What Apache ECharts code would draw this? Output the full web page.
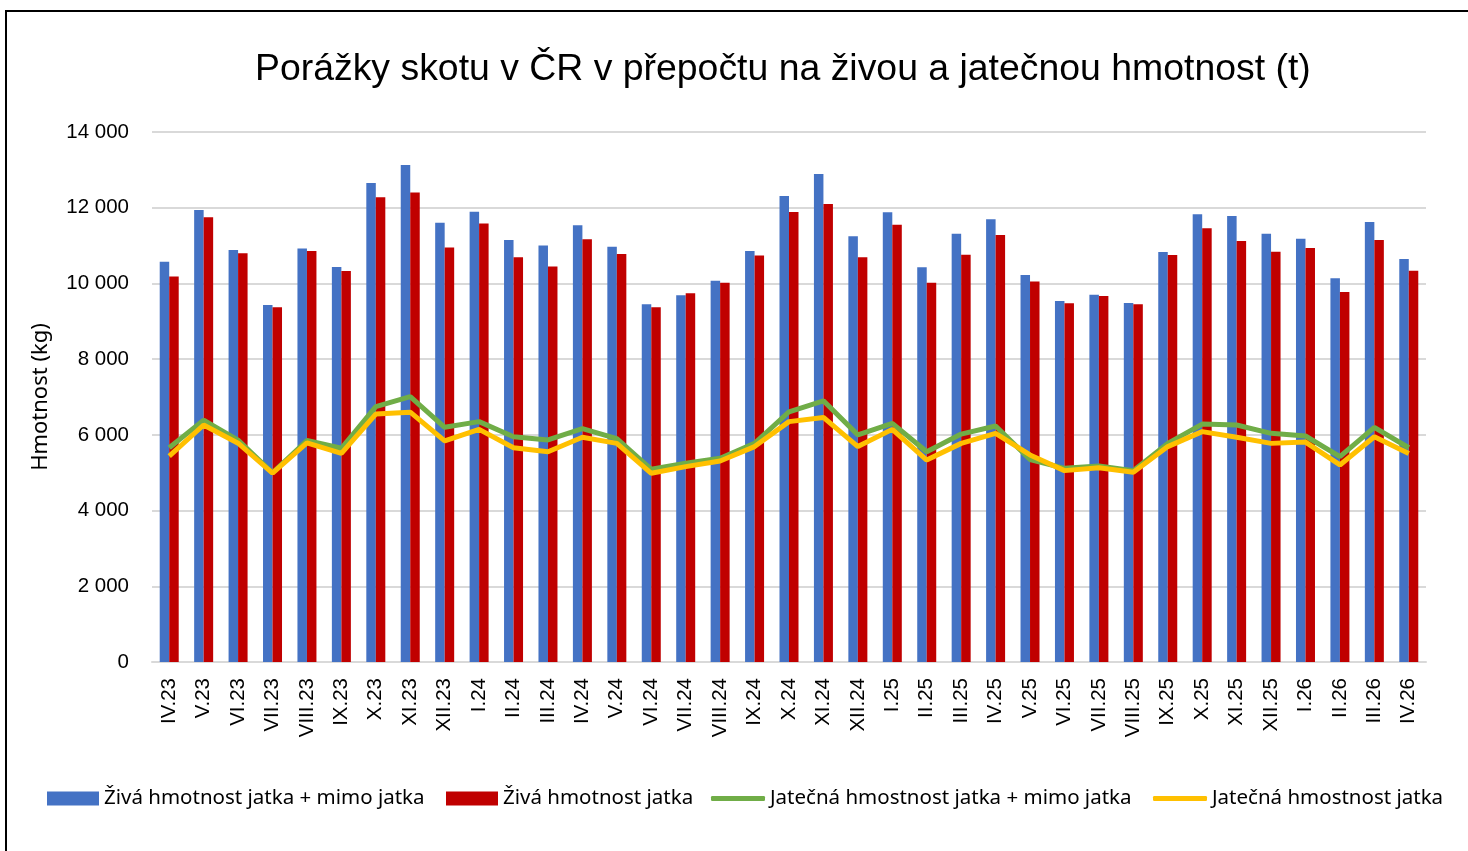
<!DOCTYPE html>
<html>
<head>
<meta charset="utf-8">
<script src="https://cdn.jsdelivr.net/npm/echarts@6/dist/echarts.min.js"></script>
<style>
  html, body { margin: 0; padding: 0; background: #fff; }
  #chart { position: absolute; left: 0; top: 0; width: 1468px; height: 851px; }
  #frame { position: absolute; left: 5px; top: 10px; width: 1480px; height: 860px; border: 2px solid #000; pointer-events: none; }
</style>
</head>
<body>
<div id="chart"></div>
<div id="frame"></div>
<script>
const months = ['IV.23', 'V.23', 'VI.23', 'VII.23', 'VIII.23', 'IX.23', 'X.23', 'XI.23', 'XII.23',
  'I.24', 'II.24', 'III.24', 'IV.24', 'V.24', 'VI.24', 'VII.24', 'VIII.24', 'IX.24', 'X.24', 'XI.24', 'XII.24',
  'I.25', 'II.25', 'III.25', 'IV.25', 'V.25', 'VI.25', 'VII.25', 'VIII.25', 'IX.25', 'X.25', 'XI.25', 'XII.25',
  'I.26', 'II.26', 'III.26', 'IV.26']

// živá hmotnost jatka + mimo jatka
const liveTotal = [10570, 11940, 10880, 9430, 10920, 10435, 12650, 13130, 11605,
  11895, 11150, 11000, 11535, 10970, 9450, 9685, 10070, 10855, 12310, 12890, 11245,
  11880, 10425, 11315, 11695, 10225, 9535, 9700, 9485, 10830, 11825, 11780, 11315,
  11180, 10135, 11620, 10645]

// živá hmotnost jatka
const liveSlaughter = [10180, 11750, 10795, 9370, 10855, 10330, 12275, 12400, 10950,
  11580, 10690, 10450, 11165, 10780, 9370, 9740, 10020, 10735, 11885, 12100, 10690,
  11550, 10020, 10760, 11280, 10050, 9475, 9670, 9450, 10750, 11455, 11120, 10840,
  10935, 9775, 11145, 10335]

// jatečná hmotnost jatka + mimo jatka
const carcassTotal = [5660, 6390, 5860, 5000, 5850, 5645, 6745, 7010, 6200,
  6350, 5950, 5865, 6165, 5900, 5090, 5250, 5380, 5775, 6610, 6900, 6000,
  6305, 5555, 6020, 6235, 5350, 5115, 5180, 5050, 5775, 6285, 6260, 6040,
  5970, 5425, 6200, 5660]

// jatečná hmotnost jatka
const carcassSlaughter = [5440, 6260, 5780, 4990, 5790, 5510, 6550, 6600, 5840,
  6145, 5660, 5555, 5935, 5775, 4985, 5160, 5310, 5690, 6350, 6460, 5690,
  6145, 5335, 5775, 6040, 5470, 5055, 5130, 5010, 5690, 6085, 5935, 5775,
  5810, 5205, 5950, 5510]

const yTicks = { min: 0, max: 14000, interval: 2000 }

const names = ['Živá hmotnost jatka + mimo jatka', 'Živá hmotnost jatka',
  'Jatečná hmostnost jatka + mimo jatka', 'Jatečná hmostnost jatka']
const colors = ['#4472C4', '#C00000', '#70AD47', '#FFC000']

const fmtThousands = v => String(v).replace(/\B(?=(\d{3})+(?!\d))/g, ' ')

const chart = echarts.init(document.getElementById('chart'))

const legendText = { fontFamily: 'Noto Sans', fontSize: 20.5, color: '#000' }
const legendPos = [47, 446, 711, 1153]

const option = {
  animation: false,
  textStyle: { fontFamily: 'Noto Sans' },
  title: {
    text: 'Porážky skotu v ČR v přepočtu na živou a jatečnou hmotnost (t)',
    left: 250,
    top: 46,
    textStyle: { fontFamily: 'Liberation Sans', fontSize: 37.4, fontWeight: 'normal', color: '#000' }
  },
  legend: names.map((n, i) => ({
    data: [n],
    left: legendPos[i],
    top: 788,
    padding: 0,
    itemWidth: i < 2 ? 52 : 54,
    itemHeight: i < 2 ? 14 : 5,
    itemGap: 0,
    textStyle: legendText,
    icon: i < 2 ? 'rect' : 'roundRect'
  })),
  grid: { left: 152, right: 42, top: 132, bottom: 189 },
  xAxis: {
    type: 'category',
    data: months,
    axisLine: { lineStyle: { color: '#d9d9d9', width: 2 } },
    axisTick: { show: false },
    axisLabel: { rotate: 90, margin: 16, interval: 0, fontFamily: 'Liberation Sans', fontSize: 20.5, color: '#000' }
  },
  yAxis: {
    type: 'value',
    min: yTicks.min,
    max: yTicks.max,
    interval: yTicks.interval,
    name: 'Hmotnost (kg)',
    nameLocation: 'middle',
    nameGap: 100,
    nameTextStyle: { fontFamily: 'Noto Sans', fontSize: 22, color: '#000' },
    axisLine: { show: false },
    axisTick: { show: false },
    axisLabel: { margin: 23, formatter: fmtThousands, fontFamily: 'Liberation Sans', fontSize: 20.5, color: '#000' },
    splitLine: { lineStyle: { color: '#d9d9d9', width: 2 } }
  },
  series: [
    { name: names[0], type: 'bar', data: liveTotal, barWidth: 9.5, barGap: '0%', itemStyle: { color: colors[0] } },
    { name: names[1], type: 'bar', data: liveSlaughter, barWidth: 9.5, barGap: '0%', itemStyle: { color: colors[1] } },
    { name: names[2], type: 'line', data: carcassTotal, symbol: 'none', lineStyle: { color: colors[2], width: 5 }, itemStyle: { color: colors[2] }, z: 3 },
    { name: names[3], type: 'line', data: carcassSlaughter, symbol: 'none', lineStyle: { color: colors[3], width: 5 }, itemStyle: { color: colors[3] }, z: 4 }
  ]
}

chart.setOption(option)
</script>
</body>
</html>
